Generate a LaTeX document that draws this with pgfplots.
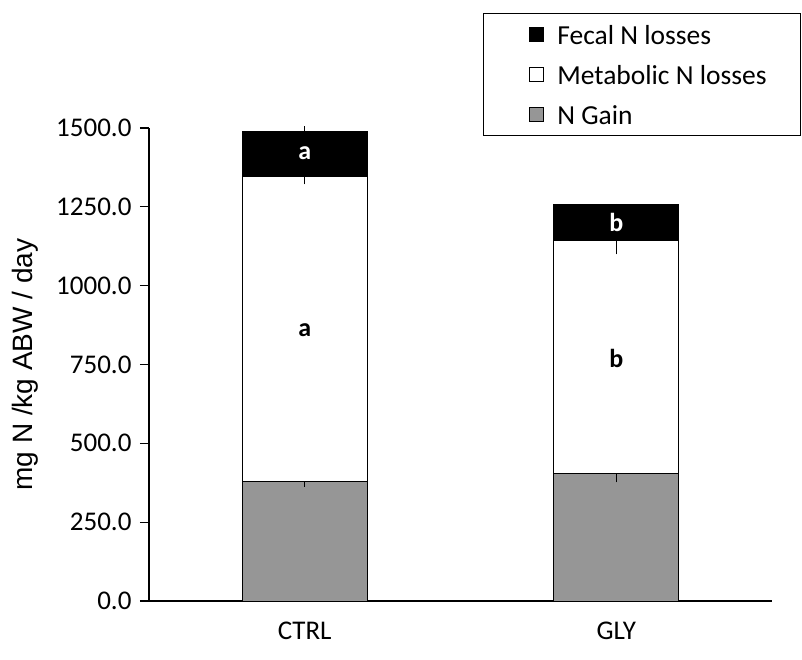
\documentclass[border=0pt]{standalone}
\usepackage{fontspec}
\setmainfont{Carlito}
\newfontfamily\arialf{Liberation Sans}
\usepackage{pgfplots}
\pgfplotsset{compat=1.18}
\definecolor{gaingray}{RGB}{150,150,150}
\newcommand{\legtext}[1]{\makebox[243pt][l]{#1}}
\begin{document}
\begin{tikzpicture}
\begin{axis}[
  name=ax,
  scale only axis,
  width=623pt, height=473pt,
  xmin=-0.5, xmax=1.5,
  ymin=0, ymax=1500,
  axis lines=left,
  axis line style={-, line width=1.3pt},
  ybar stacked,
  bar width=125pt,
  xtick={0,1},
  xticklabels={CTRL,GLY},
  x tick style={draw=none},
  minor xtick={-0.5,0.5,1.5},
  minor x tick style={line width=1.3pt, black},
  minor tick length=10pt,
  ytick={0,250,500,750,1000,1250,1500},
  y tick style={line width=1.3pt, black},
  major tick length=9pt,
  tick align=outside,
  yticklabel style={xshift=-5pt, /pgf/number format/.cd, fixed, fixed zerofill, precision=1, 1000 sep={}},
  scaled y ticks=false,
  /pgf/number format/assume math mode=true,
  ticklabel style={font=\fontsize{27}{31}\selectfont},
  xticklabel style={yshift=-8pt},
  ylabel={mg N /kg ABW / day},
  ylabel style={font=\arialf\fontsize{28}{32}\selectfont, at={(axis description cs:-0.199,0.5)}, anchor=center},
  clip=false,
  legend cell align=left,
  reverse legend,
  legend image code/.code={\path (-45pt,0pt); \draw[#1, line width=0.8pt] (0pt,-7pt) rectangle (14pt,7pt);},
  legend style={at={(axis description cs:0.5361,1.2431)}, anchor=north west,
    draw=black, line width=1pt, inner xsep=0pt, inner ysep=11.5pt,
    row sep=21pt, column sep=14pt,
    font=\fontsize{27.5}{30}\selectfont,
    nodes={inner sep=0pt, text height=19pt, text depth=0pt}},
]
\addplot+[fill=gaingray, draw=black, line width=0.9pt,
  error bars/.cd, y dir=minus, y explicit, error mark=none,
  error bar style={line width=1pt, black}]
  coordinates {(0,379) +- (0,16) (1,404) +- (0,28)};
\addlegendentry{\legtext{N Gain}}
\addplot+[fill=white, draw=black, line width=0.9pt,
  error bars/.cd, y dir=minus, y explicit, error mark=-,
  error mark options={mark size=6pt, line width=1pt, black},
  error bar style={line width=1pt, black}]
  coordinates {(0,967) +- (0,6) (1,739) +- (0,25)};
\addlegendentry{\legtext{Metabolic N losses}}
\addplot+[fill=black, draw=black, line width=0.9pt,
  error bars/.cd, y dir=plus, y explicit, error mark=none,
  error bar style={line width=1pt, black}]
  coordinates {(0,143) +- (0,17) (1,113) +- (0,3)};
\addlegendentry{\legtext{Fecal N losses}}
\coordinate (la1) at (axis cs:0,1421);
\coordinate (la2) at (axis cs:0,860);
\coordinate (lb1) at (axis cs:1,1200);
\coordinate (lb2) at (axis cs:1,770);
\end{axis}
\node[font=\bfseries\fontsize{26}{30}\selectfont, text=white] at (la1) {a};
\node[font=\bfseries\fontsize{26}{30}\selectfont, text=black] at (la2) {a};
\node[font=\bfseries\fontsize{26}{30}\selectfont, text=white] at (lb1) {b};
\node[font=\bfseries\fontsize{26}{30}\selectfont, text=black] at (lb2) {b};
\path ([xshift=-149pt, yshift=-59pt]ax.south west) rectangle ([xshift=30pt, yshift=128pt]ax.north east);
\end{tikzpicture}
\end{document}
